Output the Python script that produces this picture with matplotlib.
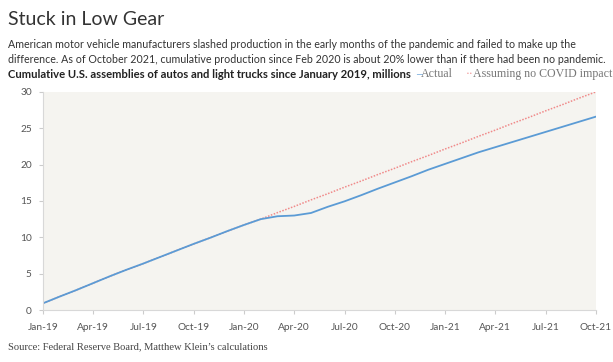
import matplotlib
matplotlib.use("Agg")
import matplotlib.pyplot as plt

months = ["Jan-19", "Feb-19", "Mar-19", "Apr-19", "May-19", "Jun-19", "Jul-19", "Aug-19",
          "Sep-19", "Oct-19", "Nov-19", "Dec-19", "Jan-20", "Feb-20", "Mar-20", "Apr-20",
          "May-20", "Jun-20", "Jul-20", "Aug-20", "Sep-20", "Oct-20", "Nov-20", "Dec-20",
          "Jan-21", "Feb-21", "Mar-21", "Apr-21", "May-21", "Jun-21", "Jul-21", "Aug-21",
          "Sep-21", "Oct-21"]

actual = [0.92, 1.85, 2.75, 3.7, 4.65, 5.55, 6.4, 7.3, 8.2, 9.1, 9.95, 10.85,
          11.7, 12.5, 12.9, 13.0, 13.35, 14.2, 14.95, 15.8, 16.7, 17.55, 18.4, 19.3,
          20.1, 20.9, 21.7, 22.4, 23.1, 23.8, 24.5, 25.2, 25.9, 26.6]

no_covid = [0.92, 1.85, 2.75, 3.7, 4.65, 5.55, 6.4, 7.3, 8.2, 9.1, 9.95, 10.85,
            11.7, 12.5, 13.4, 14.25, 15.15, 16.0, 16.9, 17.75, 18.65, 19.5, 20.4, 21.25,
            22.15, 23.0, 23.9, 24.75, 25.65, 26.5, 27.4, 28.25, 29.15, 30.0]

tick_labels = ["Jan-19", "Apr-19", "Jul-19", "Oct-19", "Jan-20", "Apr-20", "Jul-20",
               "Oct-20", "Jan-21", "Apr-21", "Jul-21", "Oct-21"]

sans = ["Lato", "DejaVu Sans"]
serif = ["Liberation Serif", "DejaVu Serif"]

fig = plt.figure(figsize=(6.13, 3.62), dpi=100)
ax = fig.add_axes([0.070, 0.1436, 0.902, 0.6024])
ax.set_facecolor("#f5f4f0")

x = list(range(len(months)))
ax.plot(x, no_covid, color="#f08a8a", lw=1.1, ls=(0, (1, 1)))
ax.plot(x, actual, color="#5b9bd5", lw=1.3)

ax.set_xlim(0, len(months) - 1)
ax.set_ylim(0, 30)
tick_pos = [months.index(t) for t in tick_labels]
ax.set_xticks(tick_pos)
ax.set_xticklabels(tick_labels, family=sans, fontsize=7.3, color="#555555")
ax.set_yticks(range(0, 31, 5))
ax.set_yticklabels([str(v) for v in range(0, 31, 5)], family=sans, fontsize=7.3, color="#555555")
ax.tick_params(axis="x", length=3, color="#cccccc", pad=6)
ax.tick_params(axis="y", length=3, color="#cccccc", pad=5)
for s in ["top", "right"]:
    ax.spines[s].set_visible(False)
for s in ["left", "bottom"]:
    ax.spines[s].set_color("#d8d8d8")

fig.text(0.013, 0.945, "Stuck in Low Gear", family=sans, fontsize=14, color="#333333", va="center")
fig.text(0.013, 0.878, "American motor vehicle manufacturers slashed production in the early months of the pandemic and failed to make up the",
         family=sans, fontsize=7.7, color="#333333", va="center")
fig.text(0.013, 0.836, "difference. As of October 2021, cumulative production since Feb 2020 is about 20% lower than if there had been no pandemic.",
         family=sans, fontsize=7.7, color="#333333", va="center")
fig.text(0.013, 0.795, "Cumulative U.S. assemblies of autos and light trucks since January 2019, millions",
         family=sans, fontsize=8.1, weight="bold", color="#222222", va="center")
fig.text(0.679, 0.795, "\u2013", family=serif, fontsize=8.6, color="#5b9bd5", va="center")
fig.text(0.687, 0.795, "Actual", family=serif, fontsize=8.6, color="#777777", va="center")
fig.text(0.759, 0.795, "\u00b7\u00b7", family=serif, fontsize=8.6, color="#f08a8a", va="center")
fig.text(0.772, 0.795, "Assuming no COVID impact", family=serif, fontsize=8.6, color="#777777", va="center")

fig.text(0.013, 0.042, "Source: Federal Reserve Board, Matthew Klein\u2019s calculations",
         family=serif, fontsize=7.6, color="#444444", va="center")

fig.savefig("out.png", dpi=100)
